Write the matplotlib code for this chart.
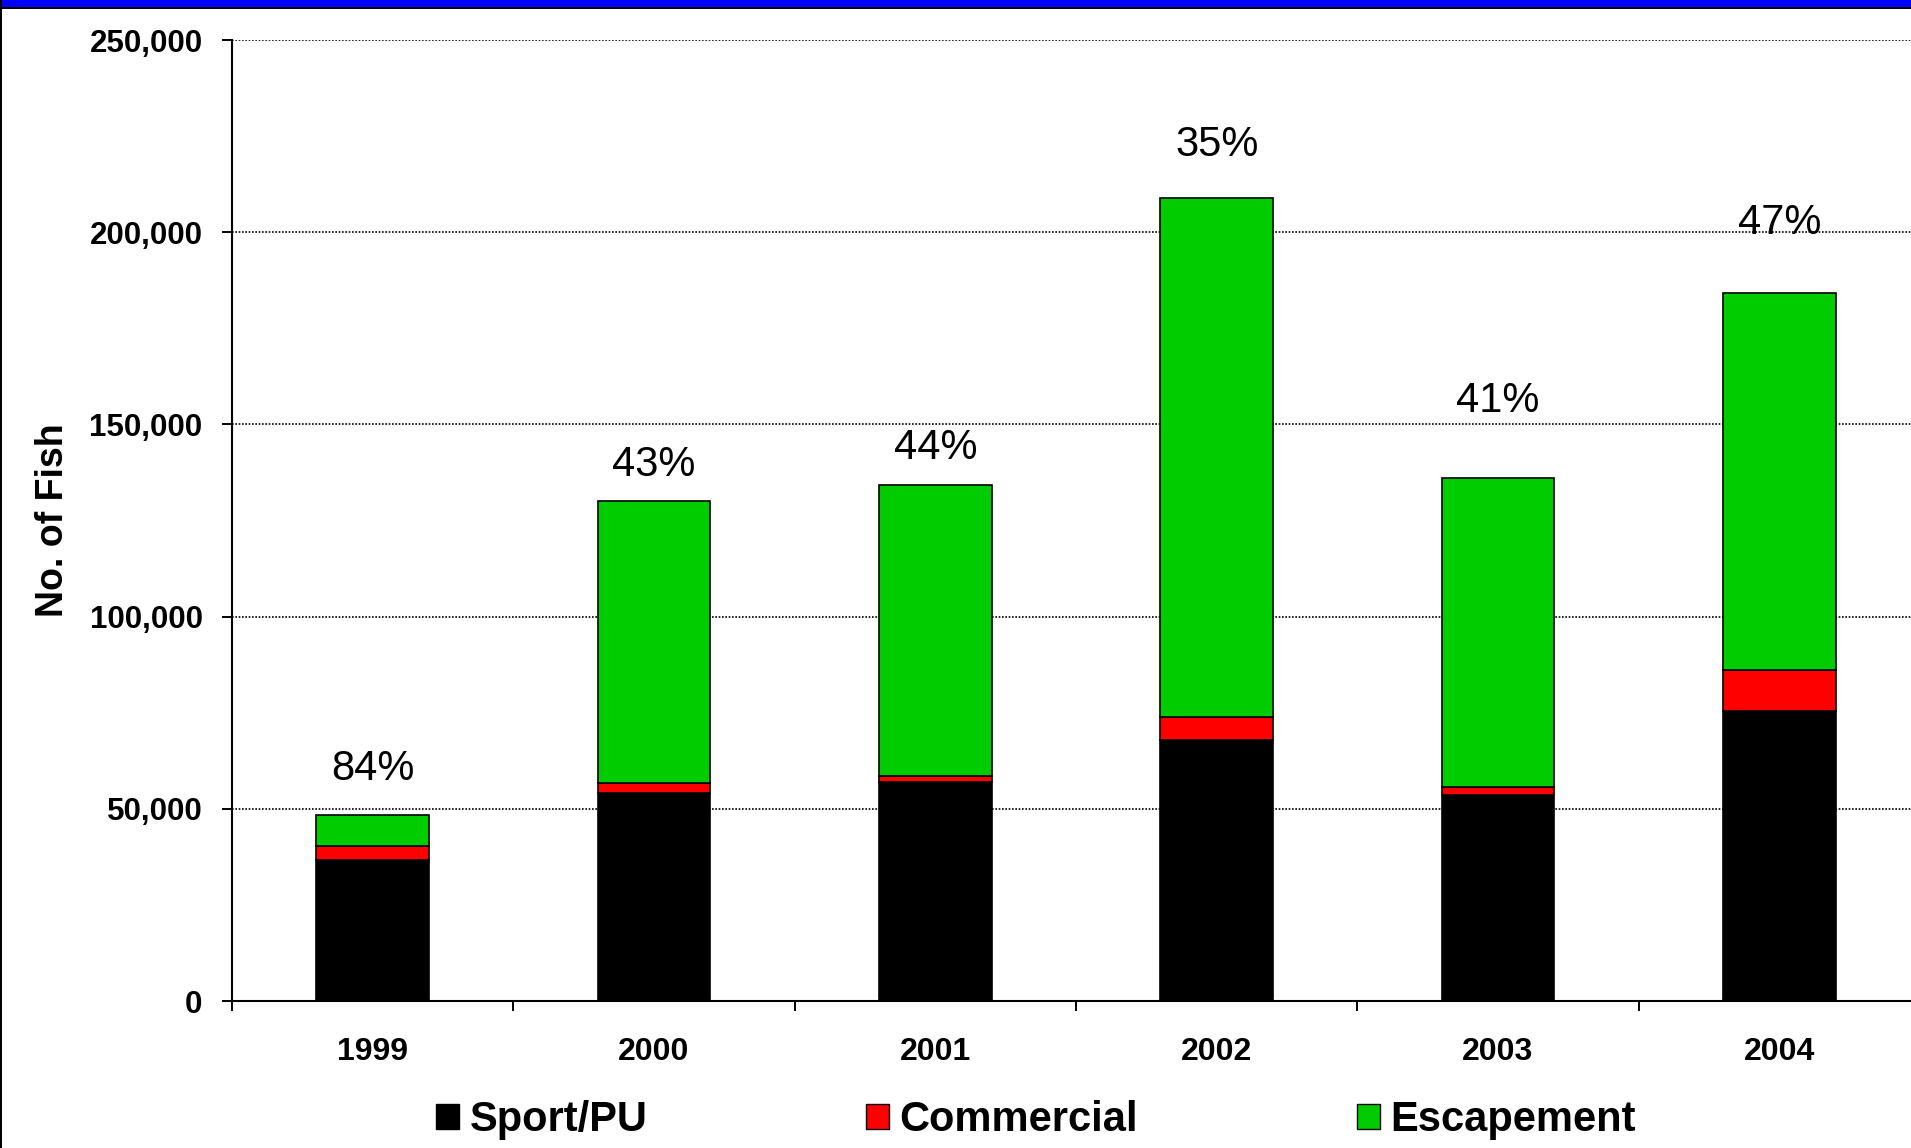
import matplotlib.pyplot as plt
from matplotlib.patches import Patch, Rectangle
import numpy as np

plt.rcParams['font.family'] = ['Liberation Sans', 'DejaVu Sans']

years = ['1999', '2000', '2001', '2002', '2003', '2004']
sport_pu = [36700, 54200, 57000, 68000, 53500, 75400]
commercial = [3600, 2600, 1600, 5800, 2300, 10800]
escapement = [8100, 73400, 75700, 135000, 80400, 97900]
pct_labels = ['84%', '43%', '44%', '35%', '41%', '47%']
pct_label_y = [60400, 139500, 143800, 222800, 156200, 202300]

fig = plt.figure(figsize=(19.11, 11.48), dpi=100)
ax = fig.add_axes([0.1214, 0.128, 0.8833, 0.8371])

x = np.arange(len(years))
w = 0.40
ax.bar(x, sport_pu, w, color='black', edgecolor='black', linewidth=1.2, label='Sport/PU', zorder=3)
ax.bar(x, commercial, w, bottom=sport_pu, color='#ff0000', edgecolor='black', linewidth=1.2,
       label='Commercial', zorder=3)
bottom2 = np.array(sport_pu) + np.array(commercial)
ax.bar(x, escapement, w, bottom=bottom2, color='#00cc00', edgecolor='black', linewidth=1.2,
       label='Escapement', zorder=3)

for xi, lab, yi in zip(x, pct_labels, pct_label_y):
    ax.text(xi, yi, lab, ha='center', va='center', fontsize=30, zorder=4)

ax.set_xlim(-0.5, 5.5)
ax.set_ylim(0, 250000)
ax.set_yticks(np.arange(0, 250001, 50000))
ax.set_yticklabels(['{:,}'.format(v) for v in range(0, 250001, 50000)],
                   fontsize=22.5, fontweight='bold')
ax.set_xticks(x)
ax.set_xticklabels(years, fontsize=23, fontweight='bold')
ax.set_xticks(np.arange(-0.5, 6.0, 1.0), minor=True)
ax.tick_params(axis='x', which='major', length=0, pad=26)
ax.tick_params(axis='x', which='minor', length=7, width=1.4, direction='out')
ax.tick_params(axis='y', length=7.2, width=1.4, pad=14)

ax.grid(axis='y', linestyle=(0, (1, 1)), color='black', linewidth=1.2, zorder=0)
for s in ['top', 'right']:
    ax.spines[s].set_visible(False)
for s in ['left', 'bottom']:
    ax.spines[s].set_linewidth(1.5)

ax.set_ylabel('No. of Fish', fontsize=27, fontweight='bold')
ax.yaxis.set_label_coords(-0.0956, 0.5)

handles = [Patch(facecolor='black', edgecolor='black'),
           Patch(facecolor='#ff0000', edgecolor='black'),
           Patch(facecolor='#00cc00', edgecolor='black')]
fig.legend(handles, ['Sport/PU', 'Commercial', 'Escapement'], loc='center',
           bbox_to_anchor=(0.542, 0.024), ncol=3, frameon=False,
           prop={'size': 30, 'weight': 'bold'}, handlelength=0.55, handleheight=0.55,
           handletextpad=0.25, columnspacing=5.25)

# slide frame: blue band on top, thin black lines
fig.patches.append(Rectangle((0, 1 - 7 / 1148), 1, 7 / 1148, transform=fig.transFigure,
                             facecolor='#0000ff', edgecolor='none'))
fig.patches.append(Rectangle((0, 1 - 9 / 1148), 1, 2 / 1148, transform=fig.transFigure,
                             facecolor='black', edgecolor='none'))
fig.patches.append(Rectangle((0, 0), 2 / 1911, 1, transform=fig.transFigure,
                             facecolor='black', edgecolor='none'))

fig.savefig('out.png', dpi=100)
